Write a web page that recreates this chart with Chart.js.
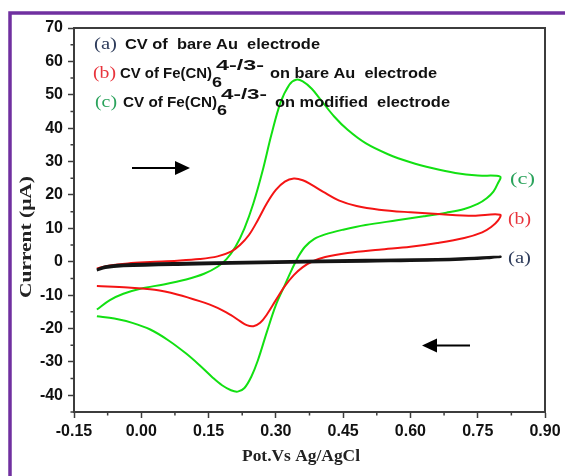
<!DOCTYPE html>
<html>
<head>
<meta charset="utf-8">
<script src="https://cdn.jsdelivr.net/npm/chart.js@4.4.1/dist/chart.umd.min.js"></script>
<style>
  html, body { margin: 0; padding: 0; background: #fff; }
  #wrap { position: relative; width: 565px; height: 476px; }
</style>
</head>
<body>
<div id="wrap"><canvas id="cv"></canvas></div>
<script>
// ── Data (potential V, current µA) ────────────────────────────────

// (a) bare Au electrode
var blackX = [-0.099, -0.08, -0.04, 0.10, 0.30, 0.50, 0.70, 0.80,
              0.78, 0.70, 0.50, 0.30, 0.10, -0.04, -0.08, -0.099];
var blackY = [-2.4, -1.4, -0.9, -0.4, 0.1, 0.5, 0.9, 1.5,
              1.2, 0.6, 0.1, -0.3, -0.8, -1.3, -1.8, -2.6];

// (b) Fe(CN)6 on bare Au
var redX = [-0.099, -0.07, -0.03, 0.02, 0.08, 0.13, 0.17, 0.20, 0.22, 0.24,
            0.26, 0.28, 0.30, 0.32, 0.34, 0.36, 0.38, 0.41, 0.44, 0.48,
            0.53, 0.60, 0.67, 0.74, 0.80,
            0.795, 0.78, 0.76, 0.72, 0.66, 0.60, 0.53, 0.46, 0.41, 0.38,
            0.36, 0.34, 0.32, 0.30, 0.28, 0.265, 0.25, 0.235, 0.22, 0.20,
            0.17, 0.13, 0.08, 0.03, -0.03, -0.099];
var redY = [-2.0, -1.1, -0.5, -0.1, 0.3, 0.8, 1.6, 3.0, 5.0, 8.0,
            12.5, 17.5, 21.5, 24.0, 24.9, 24.4, 23.0, 20.6, 18.4, 16.7,
            15.6, 14.8, 14.2, 13.8, 14.1,
            12.3, 10.4, 8.8, 7.1, 5.6, 4.5, 3.6, 2.6, 1.4, 0,
            -1.6, -4.0, -7.3, -11.5, -15.8, -18.3, -19.3, -19.0, -17.8, -16.0,
            -13.8, -11.8, -9.8, -8.4, -7.7, -7.3];

// (c) Fe(CN)6 on modified electrode
var greenX = [-0.099, -0.07, -0.04, 0.0, 0.05, 0.10, 0.14, 0.17, 0.19, 0.21,
              0.23, 0.25, 0.27, 0.29, 0.31, 0.33, 0.345, 0.36, 0.38, 0.40,
              0.43, 0.46, 0.50, 0.55, 0.60, 0.65, 0.70, 0.75, 0.80,
              0.795, 0.785, 0.77, 0.75, 0.72, 0.68, 0.63, 0.57, 0.50, 0.45,
              0.41, 0.385, 0.365, 0.35, 0.335, 0.32, 0.30, 0.28, 0.26, 0.245,
              0.23, 0.215, 0.20, 0.18, 0.16, 0.13, 0.10, 0.06, 0.02, -0.02,
              -0.06, -0.099];
var greenY = [-14.3, -11.5, -9.6, -8.0, -6.8, -5.3, -3.6, -1.5, 0.8, 4.5,
              10.0, 17.5, 27, 38, 47.5, 53, 54.5, 54, 51.8, 48.5,
              43.5, 39.5, 35.5, 32.2, 29.8, 28, 26.6, 25.8, 25.5,
              23.5, 21, 19, 17.3, 15.8, 14.7, 13.6, 12.4, 11.0, 9.6,
              8.2, 6.8, 4.5, 1.5, -2.5, -7, -13, -21, -29.5, -34.5,
              -37.8, -38.9, -38.5, -37, -34.8, -31, -27.5, -23.5, -20.3, -18.3,
              -17, -16.3];

var xTickValues = [-0.15, 0.00, 0.15, 0.30, 0.45, 0.60, 0.75, 0.90];
var yTickValues = [-40, -30, -20, -10, 0, 10, 20, 30, 40, 50, 60, 70];
var xMinorTicks = [-0.075, 0.075, 0.225, 0.375, 0.525, 0.675, 0.825];
var yMinorTicks = [-45, -35, -25, -15, -5, 5, 15, 25, 35, 45, 55, 65];

var legendLabels = ['(a)', '(b)', '(c)'];
var seriesNames = ['CV of  bare Au  electrode', 'CV of Fe(CN)', 'CV of Fe(CN)'];

// ── Colors ────────────────────────────────────────────────────────

var BLACK = '#151515';
var RED   = '#f41414';
var GREEN = '#12e012';
var AXIS  = '#3c3c3c';
var LBL_A = '#2f3d5c';
var LBL_B = '#e8343c';
var LBL_C = '#2ba35c';

function toPoints(xs, ys) {
  return xs.map(function (x, i) { return { x: x, y: ys[i] }; });
}

// horizontal-fit text helper
function fitText(ctx, str, x, y, font, color, width) {
  ctx.save();
  ctx.font = font;
  ctx.fillStyle = color;
  ctx.textAlign = 'left';
  ctx.textBaseline = 'alphabetic';
  var w = ctx.measureText(str).width;
  var sx = width ? width / w : 1;
  ctx.translate(x, y);
  ctx.scale(sx, 1);
  ctx.fillText(str, 0, 0);
  ctx.restore();
}

function arrow(ctx, x1, x2, y, dir) {
  // dir 1 = pointing right, -1 = left; x2 is tip
  ctx.save();
  ctx.strokeStyle = '#000';
  ctx.fillStyle = '#000';
  ctx.lineWidth = 2;
  ctx.beginPath();
  ctx.moveTo(x1, y);
  ctx.lineTo(x2 - dir * 10, y);
  ctx.stroke();
  ctx.beginPath();
  ctx.moveTo(x2, y);
  ctx.lineTo(x2 - dir * 15, y - 7);
  ctx.lineTo(x2 - dir * 15, y + 7);
  ctx.closePath();
  ctx.fill();
  ctx.restore();
}

var SANS = 'bold 15px "Liberation Sans", Arial, sans-serif';
var SANS_SUP = 'bold 14px "Liberation Sans", Arial, sans-serif';
var SERIF = '17px "Liberation Serif", "Times New Roman", serif';
var SERIF_B = 'bold 16px "Liberation Serif", "Times New Roman", serif';

var decorPlugin = {
  id: 'decor',
  beforeDraw: function (chart) {
    var ctx = chart.ctx;
    ctx.save();
    ctx.fillStyle = '#fff';
    ctx.fillRect(0, 0, chart.width, chart.height);
    // purple page frame
    ctx.strokeStyle = '#7030a0';
    ctx.lineWidth = 3.5;
    ctx.beginPath();
    ctx.moveTo(10, 480);
    ctx.lineTo(10, 13);
    ctx.lineTo(570, 13);
    ctx.stroke();
    ctx.restore();
  },
  afterDraw: function (chart) {
    var ctx = chart.ctx;
    var a = chart.chartArea;
    var xs = chart.scales.x, ys = chart.scales.y;

    ctx.save();
    // plot frame
    ctx.strokeStyle = AXIS;
    ctx.lineWidth = 2;
    ctx.strokeRect(a.left, a.top, a.right - a.left, a.bottom - a.top);

    // minor ticks
    ctx.lineWidth = 1.5;
    ctx.beginPath();
    xMinorTicks.forEach(function (v) {
      var px = xs.getPixelForValue(v);
      ctx.moveTo(px, a.bottom);
      ctx.lineTo(px, a.bottom + 3.5);
    });
    yMinorTicks.forEach(function (v) {
      var py = ys.getPixelForValue(v);
      ctx.moveTo(a.left, py);
      ctx.lineTo(a.left - 3.5, py);
    });
    ctx.stroke();
    ctx.restore();

    // legend block
    fitText(ctx, legendLabels[0], 94, 49, SERIF, LBL_A, 23);
    fitText(ctx, seriesNames[0], 125, 49, SANS, '#111', 195);

    fitText(ctx, legendLabels[1], 93, 78, SERIF, LBL_B, 23);
    fitText(ctx, seriesNames[1], 120, 78, SANS, '#111', 92);
    fitText(ctx, '6', 212, 87, SANS, '#111', 10);
    fitText(ctx, '4-/3-', 216, 70, SANS_SUP, '#111', 48);
    fitText(ctx, 'on bare Au  electrode', 270, 78, SANS, '#111', 167);

    fitText(ctx, legendLabels[2], 95, 107, SERIF, LBL_C, 22);
    fitText(ctx, seriesNames[2], 123, 107, SANS, '#111', 94);
    fitText(ctx, '6', 217, 115, SANS, '#111', 10);
    fitText(ctx, '4-/3-', 221, 99, SANS_SUP, '#111', 46);
    fitText(ctx, 'on modified  electrode', 275, 107, SANS, '#111', 175);

    // curve tags
    fitText(ctx, legendLabels[2], 510, 184, SERIF, LBL_C, 25);
    fitText(ctx, legendLabels[1], 508, 224, SERIF, LBL_B, 23);
    fitText(ctx, legendLabels[0], 508, 263, SERIF, LBL_A, 23);

    // scan direction arrows
    arrow(ctx, 132, 190, 168, 1);
    arrow(ctx, 470, 422, 345.5, -1);

    // axis titles
    fitText(ctx, 'Pot.Vs Ag/AgCl', 242, 461, SERIF_B, '#222', 118);

    ctx.save();
    ctx.font = SERIF_B;
    ctx.fillStyle = '#222';
    ctx.textAlign = 'center';
    ctx.textBaseline = 'middle';
    var tw = ctx.measureText('Current (μA)').width;
    ctx.translate(27, 237);
    ctx.rotate(-Math.PI / 2);
    ctx.scale(122 / tw, 1);
    ctx.fillText('Current (μA)', 0, 0);
    ctx.restore();
  }
};

var tickFont = { family: '"Liberation Sans", Arial, sans-serif', size: 16, weight: 'bold' };

var config = {
  type: 'scatter',
  data: {
    datasets: [
      { label: '(a)', data: toPoints(blackX, blackY), borderColor: BLACK, borderWidth: 2.5 },
      { label: '(b)', data: toPoints(redX, redY), borderColor: RED, borderWidth: 2 },
      { label: '(c)', data: toPoints(greenX, greenY), borderColor: GREEN, borderWidth: 2 }
    ].map(function (d) {
      d.showLine = true;
      d.pointRadius = 0;
      d.tension = 0.35;
      d.fill = false;
      return d;
    })
  },
  options: {
    responsive: true,
    maintainAspectRatio: false,
    animation: false,
    layout: { padding: { top: 28, right: 20, left: 0, bottom: 0 } },
    plugins: {
      legend: { display: false },
      tooltip: { enabled: false }
    },
    scales: {
      x: {
        type: 'linear',
        min: -0.15,
        max: 0.90,
        afterBuildTicks: function (scale) {
          scale.ticks = xTickValues.map(function (v) { return { value: v }; });
        },
        afterFit: function (scale) { scale.height = 64; },
        ticks: {
          color: '#111',
          font: tickFont,
          padding: 4,
          maxRotation: 0,
          autoSkip: false,
          callback: function (v) { return Number(v).toFixed(2); }
        },
        grid: {
          drawOnChartArea: false,
          drawTicks: true,
          tickLength: 6,
          tickColor: AXIS,
          tickWidth: 1.5
        },
        border: { display: true, color: AXIS, width: 2 }
      },
      y: {
        type: 'linear',
        min: -45,
        max: 70,
        afterBuildTicks: function (scale) {
          scale.ticks = yTickValues.map(function (v) { return { value: v }; });
        },
        afterFit: function (scale) { scale.width = 74; },
        ticks: {
          color: '#111',
          font: tickFont,
          padding: 5,
          autoSkip: false,
          callback: function (v) { return String(v); }
        },
        grid: {
          drawOnChartArea: false,
          drawTicks: true,
          tickLength: 6,
          tickColor: AXIS,
          tickWidth: 1.5
        },
        border: { display: true, color: AXIS, width: 2 }
      }
    }
  },
  plugins: [decorPlugin]
};

new Chart(document.getElementById('cv'), config);
</script>
</body>
</html>
